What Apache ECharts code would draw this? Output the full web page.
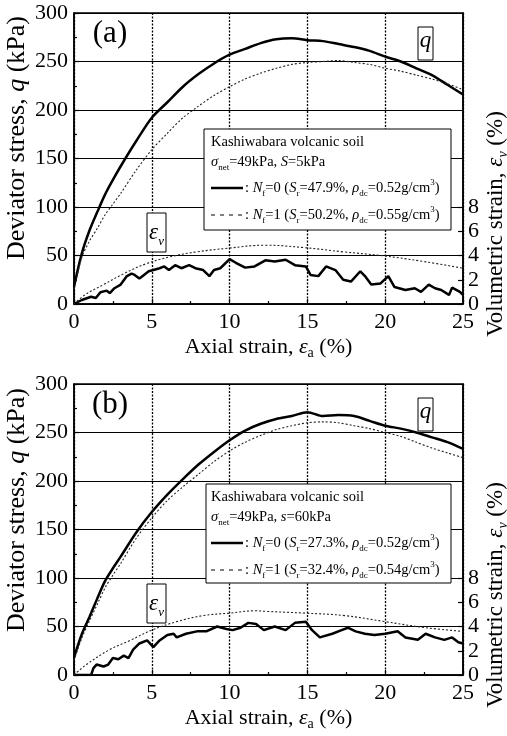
<!DOCTYPE html>
<html>
<head>
<meta charset="utf-8">
<script src="https://cdn.jsdelivr.net/npm/echarts@6/dist/echarts.min.js"></script>
<style>
  html, body { margin: 0; padding: 0; background: #fff; }
  #main { width: 507px; height: 736px; }
</style>
</head>
<body>
<div id="main"></div>
<script>
// axial strain (%) where the q curves were read
var strainQ = [0, 0.5, 1, 1.5, 2, 2.5, 3, 4, 5, 6, 7, 8, 9, 10, 11, 12, 13, 14, 15, 16, 17, 18, 19, 20, 21, 22, 23, 24, 25];

// (a) S=5kPa : deviator stress q (kPa)
var qA0 = [18, 52, 76, 95, 113, 128, 142, 168, 192, 208, 224, 237, 248, 257, 263, 269, 273, 274, 272, 271, 268, 265, 261, 255, 250, 243, 236, 226, 216];
var qA1 = [15, 48, 65, 78, 92, 103, 114, 138, 159, 176, 192, 204, 215, 224, 232, 238, 243, 247, 249, 250, 251, 249, 247, 243, 240, 236, 232, 227, 221];

// (b) s=60kPa : deviator stress q (kPa)
var qB0 = [18, 42, 60, 79, 97, 110, 122, 147, 168, 186, 202, 217, 230, 242, 252, 259, 264, 267, 271, 267, 268, 267, 262, 257, 254, 250, 245, 240, 233];
var qB1 = [15, 38, 56, 73, 90, 103, 115, 141, 162, 180, 194, 207, 220, 231, 240, 247, 253, 257, 260, 261, 260, 257, 254, 250, 246, 240, 234, 229, 224];

// volumetric strain (%) as [axial strain, ev]
var evA0 = [[0, 0], [0.5, 0.33], [1.1, 0.6], [1.4, 0.5], [1.7, 0.97], [2.1, 1.1], [2.3, 0.9], [2.6, 1.3], [3.0, 1.6], [3.4, 2.3],
    [3.7, 2.5], [3.9, 2.4], [4.2, 2.1], [4.5, 2.4], [4.8, 2.7], [5.1, 2.8], [5.5, 2.95], [5.8, 3.1], [6.1, 2.8], [6.5, 3.2],
    [6.9, 2.95], [7.4, 3.2], [7.8, 2.95], [8.3, 2.8], [8.7, 2.3], [9.0, 2.8], [9.4, 2.95], [10.0, 3.7], [10.4, 3.4], [11.0, 3.0],
    [11.6, 3.1], [12.3, 3.6], [12.9, 3.5], [13.6, 3.65], [14.2, 3.2], [14.9, 3.1], [15.2, 2.4], [15.7, 2.3], [16.2, 3.1], [16.8, 2.8],
    [17.3, 2.0], [17.8, 1.85], [18.4, 2.7], [18.7, 2.3], [19.1, 1.6], [19.7, 1.7], [20.2, 2.3], [20.6, 1.4], [21.3, 1.15], [21.9, 1.3],
    [22.3, 1.0], [22.8, 1.6], [23.2, 1.3], [23.6, 1.15], [24.1, 0.75], [24.3, 1.35], [24.8, 1.0], [25, 0.75]];
var evA1 = [[0, 0], [0.7, 0.75], [1.9, 1.6], [3.2, 2.5], [4.6, 3.3], [6.2, 3.9], [7.9, 4.3], [9.9, 4.6], [12.3, 4.85],
    [14.8, 4.65], [17.3, 4.3], [19.7, 4.0], [22.5, 3.5], [25, 2.95]];
var evB0 = [[0, 0], [1.1, 0], [1.25, 0.57], [1.45, 0.86], [1.9, 0.7], [2.2, 0.86], [2.5, 1.4], [2.85, 1.3], [3.2, 1.6], [3.5, 1.4],
    [3.8, 2.1], [4.2, 2.6], [4.7, 2.85], [5.1, 2.3], [5.5, 2.85], [6.0, 3.3], [6.4, 3.4], [6.6, 3.1], [7.2, 3.4], [7.9, 3.6],
    [8.5, 3.6], [9.2, 4.0], [9.8, 3.8], [10.2, 3.7], [10.7, 3.9], [11.2, 4.3], [11.7, 4.2], [12.2, 3.7], [12.9, 4.0], [13.6, 3.7],
    [14.2, 4.3], [14.9, 4.4], [15.3, 3.7], [15.8, 3.1], [16.6, 3.4], [17.2, 3.7], [17.6, 3.9], [18.1, 3.6], [18.7, 3.4], [19.3, 3.3],
    [20.0, 3.4], [20.8, 3.6], [21.3, 3.1], [22.1, 2.9], [22.6, 3.4], [23.2, 3.1], [23.8, 2.9], [24.3, 3.1], [24.7, 2.7], [25, 2.6]];
var evB1 = [[0, 0], [0.8, 0.86], [2.3, 2.1], [3.6, 2.85], [5.0, 3.7], [6.6, 4.4], [8.3, 4.9], [10.0, 5.1], [11.7, 5.3],
    [12.3, 5.25], [14.9, 5.1], [17.4, 4.9], [20, 4.4], [22.6, 3.9], [25, 3.6]];

// tick labels shown on the volumetric strain axis
var evTicks = [0, 2, 4, 6, 8];

// legend texts
var legendA = [
    ': {i|N}{sub|f}=0 ({i|S}{sub|r}=47.9%, {i|ρ}{sub|dc}=0.52g/cm{sup|3})',
    ': {i|N}{sub|f}=1 ({i|S}{sub|r}=50.2%, {i|ρ}{sub|dc}=0.55g/cm{sup|3})'
];
var legendB = [
    ': {i|N}{sub|f}=0 ({i|S}{sub|r}=27.3%, {i|ρ}{sub|dc}=0.52g/cm{sup|3})',
    ': {i|N}{sub|f}=1 ({i|S}{sub|r}=32.4%, {i|ρ}{sub|dc}=0.54g/cm{sup|3})'
];
var condA = '{i|σ}{sub|net}=49kPa, {i|S}=5kPa';
var condB = '{i|σ}{sub|net}=49kPa, {i|s}=60kPa';
var soilName = 'Kashiwabara volcanic soil';

var FONT = 'Liberation Serif';
var LEG = 14.5; // legend font size
var myChart = echarts.init(document.getElementById('main'));

function zip(xs, ys) {
    var out = [];
    for (var i = 0; i < xs.length; i++) {
        out.push([xs[i], ys[i]]);
    }
    return out;
}

// small rich-text styles (italic, sub, sup) for a given size
function richFor(size) {
    var small = Math.round(size * 0.62);
    return {
        i: {fontFamily: FONT, fontSize: size, fontStyle: 'italic', color: '#000'},
        sub: {fontFamily: FONT, fontSize: small, lineHeight: small, verticalAlign: 'bottom', color: '#000'},
        isub: {fontFamily: FONT, fontSize: small, lineHeight: small, fontStyle: 'italic', verticalAlign: 'bottom', color: '#000'},
        sup: {fontFamily: FONT, fontSize: small, lineHeight: small, verticalAlign: 'top', color: '#000'}
    };
}

var grids = [
    {left: 74, right: 44, top: 13, height: 291},
    {left: 74, right: 44, top: 384, height: 291}
];

var xAxes = [], yAxes = [];
for (var g = 0; g < 2; g++) {
    xAxes.push({
        type: 'value', gridIndex: g, min: 0, max: 25, interval: 5,
        name: 'Axial strain, {i|ε}{sub|a} (%)',
        nameLocation: 'middle', nameGap: 43,
        nameTextStyle: {fontFamily: FONT, fontSize: 22, color: '#000', verticalAlign: 'middle', lineHeight: 26, rich: richFor(22)},
        axisLine: {lineStyle: {color: '#000', width: 1.5}},
        axisTick: {inside: true, length: 5, lineStyle: {color: '#000', width: 1.2}},
        minorTick: {show: true, splitNumber: 2, length: 3, lineStyle: {color: '#000', width: 1.2}},
        axisLabel: {fontFamily: FONT, fontSize: 22, color: '#000', margin: 7},
        splitLine: {show: true, lineStyle: {color: '#000', width: 1.3, type: [2, 1.5]}}
    });
    yAxes.push({
        type: 'value', gridIndex: g, min: 0, max: 300, interval: 50, position: 'left',
        axisLine: {lineStyle: {color: '#000', width: 1.5}},
        axisTick: {inside: true, length: 5, lineStyle: {color: '#000', width: 1.2}},
        minorTick: {show: true, splitNumber: 2, length: 3, lineStyle: {color: '#000', width: 1.2}},
        axisLabel: {fontFamily: FONT, fontSize: 22, color: '#000', margin: 6},
        splitLine: {show: true, lineStyle: {color: '#000', width: 1}}
    });
    yAxes.push({
        type: 'value', gridIndex: g, min: 0, max: 24, interval: 2, position: 'right',
        axisLine: {show: true, lineStyle: {color: '#000', width: 1.5}},
        axisTick: {inside: true, length: 5, customValues: evTicks, lineStyle: {color: '#000', width: 1.2}},
        axisLabel: {fontFamily: FONT, fontSize: 22, color: '#000', margin: 5, customValues: evTicks},
        splitLine: {show: false}
    });
}

function qLine(g, ys, solid) {
    return {
        type: 'line', xAxisIndex: g, yAxisIndex: g * 2,
        data: zip(strainQ, ys), symbol: 'none', smooth: 0.3,
        lineStyle: solid ? {color: '#000', width: 2.5} : {color: '#222', width: 1.1, type: [2, 2]}
    };
}
function evLine(g, pts, solid) {
    return {
        type: 'line', xAxisIndex: g, yAxisIndex: g * 2 + 1,
        data: pts, symbol: 'none', smooth: solid ? false : 0.4,
        lineStyle: solid ? {color: '#000', width: 2.5} : {color: '#222', width: 1.1, type: [2, 2]}
    };
}

function txt(x, y, text, size, extra) {
    var style = {text: text, fontFamily: FONT, fontSize: size, fill: '#000', verticalAlign: 'middle', lineHeight: size + 6, rich: richFor(size)};
    return Object.assign({type: 'text', z: 10, x: x, y: y, style: Object.assign(style, extra || {})});
}

function panelGraphics(dy, box, tag, cond, rows, leftTitleY, rightTitleY) {
    var y0 = box.y;
    return [
        // legend box with its texts and line samples
        {type: 'rect', z: 8, shape: box, style: {fill: '#fff', stroke: '#000', lineWidth: 1}},
        txt(211, y0 + 13, soilName, LEG),
        txt(211, y0 + 33, cond, LEG),
        {type: 'line', z: 10, shape: {x1: 211, y1: y0 + 59, x2: 243, y2: y0 + 59}, style: {stroke: '#000', lineWidth: 2.5}},
        txt(245, y0 + 59, rows[0], LEG),
        {type: 'line', z: 10, shape: {x1: 211, y1: y0 + 86, x2: 243, y2: y0 + 86}, style: {stroke: '#000', lineWidth: 1.2, lineDash: [4, 5]}},
        txt(245, y0 + 86, rows[1], LEG),
        // panel tag
        txt(110, 34 + dy, tag, 31, {align: 'center'}),
        // boxed q label
        {type: 'rect', z: 8, shape: {x: 418, y: 27 + dy, width: 15, height: 33}, style: {fill: '#fff', stroke: '#000', lineWidth: 1}},
        txt(425.5, 41 + dy, '{i|q}', 23, {align: 'center'}),
        // boxed ev label
        {type: 'rect', z: 8, shape: {x: 147, y: 213 + dy, width: 19, height: 39}, style: {fill: '#fff', stroke: '#000', lineWidth: 1}},
        {type: 'text', z: 10, x: 156.5, y: 233 + dy, style: {text: '{e|ε}{v|v}', align: 'center', verticalAlign: 'middle',
            rich: {e: {fontFamily: FONT, fontSize: 23, fontStyle: 'italic', color: '#000', lineHeight: 30},
                   v: {fontFamily: FONT, fontSize: 13, fontStyle: 'italic', color: '#000', lineHeight: 13, verticalAlign: 'bottom'}}}},
        // axis titles
        Object.assign(txt(17, leftTitleY, 'Deviator stress, {i|q} (kPa)', 26, {align: 'center'}), {rotation: Math.PI / 2}),
        Object.assign(txt(496, rightTitleY, 'Volumetric strain, {i|ε}{isub|v} (%)', 23, {align: 'center'}), {rotation: Math.PI / 2})
    ];
}

var option = {
    animation: false,
    backgroundColor: '#fff',
    textStyle: {fontFamily: FONT},
    grid: grids.map(function (g) {
        return Object.assign({show: true, borderColor: '#000', borderWidth: 1.5, backgroundColor: 'transparent'}, g);
    }),
    xAxis: xAxes,
    yAxis: yAxes,
    graphic: panelGraphics(0, {x: 204, y: 129, width: 247, height: 101}, '(a)', condA, legendA, 138, 224)
        .concat(panelGraphics(371, {x: 206, y: 484, width: 245, height: 99}, '(b)', condB, legendB, 510, 595)),
    series: [
        qLine(0, qA0, true),
        qLine(0, qA1, false),
        evLine(0, evA0, true),
        evLine(0, evA1, false),
        qLine(1, qB0, true),
        qLine(1, qB1, false),
        evLine(1, evB0, true),
        evLine(1, evB1, false)
    ]
};

myChart.setOption(option);
</script>
</body>
</html>
